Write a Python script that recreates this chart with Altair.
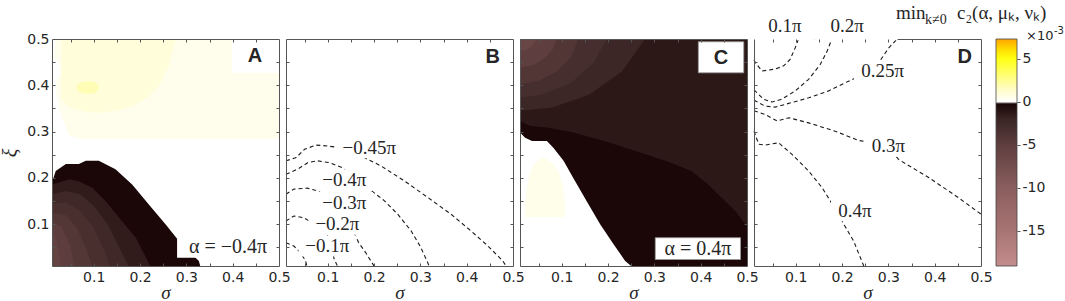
import altair as alt
import pandas as pd

# ---------------- geometry / style constants ----------------
W = H = 227
S0, S1 = 0.01, 0.5
PX = (S1 - S0) / W
FRAME = "#555555"
TXT = "#262626"
SERIF = "Liberation Serif"
SANS = "DejaVu Sans"

# ---------------- colour map (values in units of 1e-3) ----------------
CB_RANGE = [-19.1, 7.3]
CMAP_VALUES = [-19.1, -15, -10, -5, -2, -0.25, 0, 1.5, 3, 5, 6, 7.3]
CMAP_COLORS = ["#c48c8c", "#a87474", "#8a5e5e", "#5e3e3e", "#3a2424", "#1a0606",
               "#ffffff", "#fffcc4", "#ffff78", "#ffff14", "#ffe000", "#ffa500"]
CB_VALUES = [5, 0, -5, -10, -15]

MAJOR = [0.1, 0.2, 0.3, 0.4, 0.5]
MINOR = [0.05, 0.1, 0.15, 0.2, 0.25, 0.3, 0.35, 0.4, 0.45]

# ---------------- panel A (alpha = -0.4 pi) ----------------
A_YO_XI = [0.284, 0.29, 0.31, 0.327, 0.35, 0.377, 0.406, 0.427, 0.449, 0.463, 0.48, 0.5]
A_YO_L = [0.075, 0.047, 0.04, 0.032, 0.026, 0.021, 0.018, 0.029, 0.025, 0.014, 0.016, 0.018]
A_YO_LEV = 0.45
A_YM_S = [0.03, 0.045, 0.061, 0.085, 0.111, 0.15, 0.183, 0.215, 0.241, 0.262, 0.277]
A_YM_LO = [0.37, 0.355, 0.348, 0.343, 0.341, 0.345, 0.355, 0.373, 0.399, 0.44, 0.5]
A_YM_LEV = 0.95
A_YS_XI = [0.382, 0.387, 0.395, 0.403, 0.408]
A_YS_L = [0.078, 0.066, 0.062, 0.066, 0.078]
A_YS_R = [0.1, 0.108, 0.112, 0.108, 0.1]
A_YS_LEV = 1.8

A_D0_S = [0.01, 0.018, 0.04, 0.068, 0.083, 0.111, 0.147, 0.183, 0.219, 0.255, 0.284, 0.313, 0.327, 0.33]
A_D0_T = [0.19, 0.215, 0.23, 0.23, 0.237, 0.237, 0.219, 0.186, 0.143, 0.1, 0.064, 0.035, 0.021, 0.01]
A_D1_S = [0.01, 0.047, 0.068, 0.097, 0.126, 0.155, 0.191, 0.212, 0.222]
A_D1_T = [0.186, 0.197, 0.193, 0.179, 0.15, 0.114, 0.071, 0.03, 0.01]
A_D2_S = [0.01, 0.04, 0.07, 0.10, 0.13, 0.155, 0.175]
A_D2_T = [0.165, 0.172, 0.165, 0.14, 0.1, 0.05, 0.01]
A_D3_S = [0.01, 0.04, 0.07, 0.10, 0.12, 0.135]
A_D3_T = [0.145, 0.147, 0.13, 0.093, 0.05, 0.01]
A_D4_S = [0.01, 0.04, 0.065, 0.085, 0.097]
A_D4_T = [0.125, 0.12, 0.09, 0.045, 0.01]
A_D5_S = [0.01, 0.03, 0.05, 0.058]
A_D5_T = [0.105, 0.095, 0.055, 0.01]
A_D6_S = [0.01, 0.02, 0.03]
A_D6_T = [0.09, 0.065, 0.01]
A_D_LEVELS = [-0.3, -1.5, -2.5, -3.3, -4.1, -4.9, -5.7]

# ---------------- panel C (alpha = 0.4 pi) ----------------
C_BASE_S = [0.01, 0.5]
C_BASE_LEV = -1.3
C_A5_S = [0.01, 0.08, 0.16, 0.23, 0.28]
C_A5_LO = [0.345, 0.352, 0.38, 0.43, 0.5]
C_A4_S = [0.01, 0.06, 0.12, 0.17, 0.197]
C_A4_LO = [0.373, 0.38, 0.405, 0.45, 0.5]
C_A3_S = [0.01, 0.05, 0.09, 0.12, 0.136]
C_A3_LO = [0.402, 0.41, 0.43, 0.46, 0.5]
C_A2_S = [0.01, 0.04, 0.065, 0.082, 0.089]
C_A2_LO = [0.438, 0.444, 0.46, 0.48, 0.5]
C_A1_S = [0.01, 0.025, 0.038, 0.046]
C_A1_LO = [0.474, 0.477, 0.487, 0.5]
C_ARC_LEVELS = [-2.2, -3.1, -4.0, -5.0, -6.2]
C_BLACK_S = [0.01, 0.032, 0.068, 0.125, 0.197, 0.269, 0.33, 0.38, 0.416, 0.445, 0.474, 0.5]
C_BLACK_T = [0.323, 0.312, 0.309, 0.298, 0.278, 0.255, 0.235, 0.215, 0.186, 0.158, 0.129, 0.096]
C_BLACK_LEV = -0.3
C_WHITE_S = [0.01, 0.021, 0.036, 0.068, 0.082, 0.104, 0.125, 0.154, 0.183, 0.212, 0.237, 0.25]
C_WHITE_T = [0.298, 0.287, 0.28, 0.28, 0.265, 0.237, 0.2, 0.15, 0.1, 0.057, 0.021, 0.01]
C_WHITE_LEV = 0.0
C_YEL_XI = [0.115, 0.15, 0.18, 0.21, 0.23, 0.244]
C_YEL_L = [0.021, 0.021, 0.025, 0.031, 0.04, 0.058]
C_YEL_R = [0.107, 0.107, 0.104, 0.095, 0.082, 0.062]
C_YEL_LEV = 0.5

# ---------------- panel B contours ----------------
B_NAMES = ["−0.45π", "−0.4π", "−0.3π", "−0.2π", "−0.1π"]
B_S = [
    [0.01, 0.032, 0.05, 0.075, 0.1, 0.122, 0.15, 0.179, 0.215, 0.265, 0.316, 0.366, 0.409, 0.445, 0.478, 0.485],
    [0.01, 0.035, 0.057, 0.078, 0.104, 0.132, 0.16, 0.19, 0.222, 0.251, 0.28, 0.301, 0.316, 0.319],
    [0.01, 0.027, 0.056, 0.078, 0.1, 0.125, 0.145, 0.16, 0.167, 0.182, 0.2],
    [0.01, 0.027, 0.049, 0.06, 0.08, 0.1, 0.108, 0.114, 0.121],
    [0.01, 0.027, 0.04, 0.05, 0.053, 0.055],
]
B_XI = [
    [0.237, 0.244, 0.262, 0.271, 0.269, 0.266, 0.258, 0.244, 0.226, 0.194, 0.158, 0.122, 0.086, 0.054, 0.021, 0.01],
    [0.208, 0.219, 0.233, 0.237, 0.233, 0.222, 0.2, 0.176, 0.151, 0.122, 0.086, 0.05, 0.017, 0.01],
    [0.165, 0.176, 0.178, 0.172, 0.16, 0.14, 0.11, 0.075, 0.06, 0.039, 0.01],
    [0.107, 0.118, 0.114, 0.107, 0.095, 0.075, 0.05, 0.025, 0.01],
    [0.06, 0.053, 0.04, 0.025, 0.018, 0.01],
]
B_LAB_S = [0.19, 0.136, 0.136, 0.121, 0.099]
B_LAB_XI = [0.265, 0.196, 0.147, 0.1, 0.053]

# ---------------- panel D contours ----------------
D_NAMES = ["0.1π", "0.2π", "0.25π", "0.3π", "0.4π"]
D_S = [
    [0.01, 0.013, 0.027, 0.056, 0.074, 0.088, 0.099, 0.106],
    [0.01, 0.031, 0.049, 0.07, 0.099, 0.128, 0.153, 0.168, 0.178],
    [0.01, 0.034, 0.056, 0.092, 0.128, 0.171, 0.214, 0.25, 0.28, 0.301, 0.319],
    [0.01, 0.034, 0.06, 0.085, 0.128, 0.185, 0.236, 0.27, 0.301, 0.322, 0.387, 0.452, 0.5],
    [0.01, 0.02, 0.034, 0.063, 0.092, 0.128, 0.157, 0.175, 0.19, 0.204, 0.225, 0.247],
]
D_XI = [
    [0.455, 0.449, 0.431, 0.435, 0.442, 0.456, 0.481, 0.5],
    [0.39, 0.37, 0.364, 0.37, 0.388, 0.413, 0.445, 0.474, 0.5],
    [0.368, 0.355, 0.353, 0.363, 0.373, 0.388, 0.409, 0.425, 0.45, 0.481, 0.5],
    [0.345, 0.337, 0.323, 0.33, 0.319, 0.301, 0.281, 0.275, 0.265, 0.24, 0.201, 0.157, 0.122],
    [0.301, 0.273, 0.271, 0.276, 0.251, 0.215, 0.179, 0.15, 0.125, 0.1, 0.064, 0.01],
]
D_LAB_S = [0.077, 0.211, 0.288, 0.3, 0.228]
D_LAB_XI = [0.528, 0.528, 0.431, 0.269, 0.129]
D_TOP_BOX_S0 = [0.01, 0.14]
D_TOP_BOX_S1 = [0.14, 0.32]

# ---------------- scales ----------------
XS = alt.Scale(domain=[S0, S1], nice=False, zero=False)
YS = alt.Scale(domain=[S0, S1], nice=False, zero=False)
CS = alt.Scale(type="linear", domain=CMAP_VALUES, range=CMAP_COLORS, interpolate="rgb")
LABEL_SIZE = 19


def xax(kind, zi=1):
    if kind is None:
        return None
    if kind == "lab":
        return alt.Axis(orient="bottom", values=MAJOR, format=".1f", ticks=False, tickSize=0,
                        domain=True, domainColor=FRAME, grid=False, labelFont=SANS,
                        labelFontSize=14, labelColor=TXT, labelPadding=4, labelFlush=False,
                        labelOverlap=False, title="σ", titleFont=SERIF, titleFontSize=19,
                        titleFontStyle="italic", titleFontWeight="normal", titleColor=TXT,
                        titlePadding=-1, zindex=1)
    if kind in ("bt", "tt"):
        return alt.Axis(orient="bottom" if kind == "bt" else "top", values=MINOR, labels=False,
                        domain=False, ticks=True, tickSize=3, tickColor=FRAME, offset=-3,
                        grid=False, title=None, zindex=1)
    return alt.Axis(orient="top", labels=False, ticks=False, domain=True, domainColor=FRAME,
                    grid=False, title=None, zindex=zi)


def yax(kind):
    if kind is None:
        return None
    if kind == "lab":
        return alt.Axis(orient="left", values=MAJOR, format=".1f", ticks=False, tickSize=0,
                        domain=True, domainColor=FRAME, grid=False, labelFont=SANS,
                        labelFontSize=14, labelColor=TXT, labelPadding=3, labelFlush=False,
                        labelOverlap=False, title="ξ", titleFont=SERIF, titleFontSize=20,
                        titleFontStyle="italic", titleFontWeight="normal", titleColor=TXT,
                        titlePadding=6, zindex=1)
    if kind == "ld":
        return alt.Axis(orient="left", labels=False, ticks=False, domain=True, domainColor=FRAME,
                        grid=False, title=None, zindex=1)
    if kind in ("lt", "rt"):
        return alt.Axis(orient="left" if kind == "lt" else "right", values=MINOR, labels=False,
                        domain=False, ticks=True, tickSize=3, tickColor=FRAME, offset=-3,
                        grid=False, title=None, zindex=1)
    return alt.Axis(orient="right", labels=False, ticks=False, domain=True, domainColor=FRAME,
                    grid=False, title=None, zindex=1)


def X(field, kind=None, zi=1):
    return alt.X(f"{field}:Q", scale=XS, axis=xax(kind, zi))


def Y(field, kind=None):
    return alt.Y(f"{field}:Q", scale=YS, axis=yax(kind))


COLOR = alt.Color("lev:Q", scale=CS, legend=None)


def varea(s, lo, hi, lev, ax=(None, None)):
    df = pd.DataFrame({"s": s, "lo": lo, "hi": hi})
    df["lev"] = lev
    return alt.Chart(df).mark_area(interpolate="linear").encode(
        x=X("s", ax[0]), y=Y("lo", ax[1]), y2="hi:Q", color=COLOR)


def harea(xi, l, r, lev, ax=(None, None)):
    df = pd.DataFrame({"xi": xi, "l": l, "r": r})
    df["lev"] = lev
    return alt.Chart(df).mark_area(orient="horizontal", interpolate="linear").encode(
        y=Y("xi", ax[1]), x=X("l", ax[0]), x2="r:Q", color=COLOR)


def boxes(x0, x1, y0, y1, ax=(None, None), stroke=None, zi=1):
    df = pd.DataFrame({"x0": x0, "x1": x1, "y0": y0, "y1": y1})
    kw = dict(fill="white")
    if stroke:
        kw.update(stroke=stroke, strokeWidth=0.8)
    return alt.Chart(df).mark_rect(**kw).encode(
        x=X("x0", ax[0], zi), x2="x1:Q", y=Y("y0", ax[1]), y2="y1:Q")


def texts(t, s, xi, size=LABEL_SIZE, font=SERIF, weight="normal", ax=(None, None)):
    df = pd.DataFrame({"t": t, "s": s, "xi": xi})
    return alt.Chart(df).mark_text(font=font, fontSize=size, fontWeight=weight, color=TXT).encode(
        x=X("s", ax[0]), y=Y("xi", ax[1]), text="t:N")


def label_boxes(t, s, xi, size=LABEL_SIZE, pad=5):
    w = [(0.5 * size * len(tt) + 2 * pad) * PX for tt in t]
    h = (size + 2) * PX
    x0 = [a - b / 2 for a, b in zip(s, w)]
    x1 = [a + b / 2 for a, b in zip(s, w)]
    y0 = [a - h / 2 for a in xi]
    y1 = [a + h / 2 for a in xi]
    return x0, x1, y0, y1


def contour_lines(names, S, XI, ax=(None, None)):
    rows = []
    for n, ss, xx in zip(names, S, XI):
        for i, (a, b) in enumerate(zip(ss, xx)):
            rows.append({"c": n, "i": i, "s": a, "xi": b})
    df = pd.DataFrame(rows)
    return alt.Chart(df).mark_line(strokeDash=[4, 3], strokeWidth=1.1, color="#1a1a1a").encode(
        x=X("s", ax[0]), y=Y("xi", ax[1]), detail="c:N", order="i:Q")


AX_A = [("lab", "lab"), ("bt", "lt"), ("tt", "rt"), ("td", "rd")]
AX_O = [("lab", "ld"), ("bt", "lt"), ("tt", "rt"), ("td", "rd")]

# ---------------- panel A ----------------
a_dark = [(A_D0_S, A_D0_T), (A_D1_S, A_D1_T), (A_D2_S, A_D2_T), (A_D3_S, A_D3_T),
          (A_D4_S, A_D4_T), (A_D5_S, A_D5_T), (A_D6_S, A_D6_T)]
layersA = [
    harea(A_YO_XI, A_YO_L, S1, A_YO_LEV, AX_A[0]),
    varea(A_YM_S, A_YM_LO, S1, A_YM_LEV, AX_A[1]),
    harea(A_YS_XI, A_YS_L, A_YS_R, A_YS_LEV, AX_A[2]),
]
for k, ((s, t), lev) in enumerate(zip(a_dark, A_D_LEVELS)):
    layersA.append(varea(s, S0, t, lev, AX_A[3] if k == 0 else (None, None)))
layersA += [
    boxes([0.398, 0.28], [0.5, 0.5], [0.427, 0.028], [0.5, 0.075]),
    texts(["A"], [0.448], [0.463], size=20, font="Liberation Sans", weight="bold"),
    texts(["α = −0.4π"], [0.39], [0.051], size=20),
]
pA = alt.layer(*layersA).resolve_axis(x="independent", y="independent").properties(width=W, height=H)

# ---------------- panel B ----------------
bx0, bx1, by0, by1 = label_boxes(B_NAMES, B_LAB_S, B_LAB_XI)
pB = alt.layer(
    contour_lines(B_NAMES, B_S, B_XI, AX_O[0]),
    boxes(bx0, bx1, by0, by1, AX_O[1]),
    texts(B_NAMES, B_LAB_S, B_LAB_XI, ax=AX_O[2]),
    texts(["B"], [0.456], [0.461], size=20, font="Liberation Sans", weight="bold", ax=AX_O[3]),
).resolve_axis(x="independent", y="independent").properties(width=W, height=H)

# ---------------- panel C ----------------
c_arcs = [(C_A5_S, C_A5_LO), (C_A4_S, C_A4_LO), (C_A3_S, C_A3_LO), (C_A2_S, C_A2_LO), (C_A1_S, C_A1_LO)]
layersC = [varea(C_BASE_S, S0, S1, C_BASE_LEV, AX_O[0])]
for k, ((s, lo), lev) in enumerate(zip(c_arcs, C_ARC_LEVELS)):
    layersC.append(varea(s, lo, S1, lev, AX_O[1] if k == 0 else (None, None)))
layersC += [
    varea(C_BLACK_S, S0, C_BLACK_T, C_BLACK_LEV, AX_O[2]),
    varea(C_WHITE_S, S0, C_WHITE_T, C_WHITE_LEV, AX_O[3]),
    harea(C_YEL_XI, C_YEL_L, C_YEL_R, C_YEL_LEV),
    boxes([0.395, 0.302], [0.493, 0.486], [0.427, 0.024], [0.494, 0.071], stroke="#999999"),
    texts(["C"], [0.444], [0.46], size=20, font="Liberation Sans", weight="bold"),
    texts(["α = 0.4π"], [0.394], [0.047], size=20),
]
pC = alt.layer(*layersC).resolve_axis(x="independent", y="independent").properties(width=W, height=H)

# ---------------- panel D ----------------
dx0, dx1, dy0, dy1 = label_boxes(D_NAMES, D_LAB_S, D_LAB_XI)
pD = alt.layer(
    contour_lines(D_NAMES, D_S, D_XI, AX_O[0]),
    boxes(dx0, dx1, dy0, dy1, AX_O[1]),
    boxes(D_TOP_BOX_S0, D_TOP_BOX_S1, [S1 - 1.3 * PX] * 2, [S1 + 26 * PX] * 2, ("td", "rd"), zi=0),
    texts(D_NAMES, D_LAB_S, D_LAB_XI, ax=AX_O[2]),
    texts(["D"], [0.465], [0.461], size=20, font="Liberation Sans", weight="bold"),
).resolve_axis(x="independent", y="independent").properties(width=W, height=H)

# ---------------- colour bar ----------------
CB_W = 29          # panel width; the bar itself fills its right 21 px
span = CB_RANGE[1] - CB_RANGE[0]
stops = [{"offset": (v - CB_RANGE[0]) / span, "color": c} for v, c in zip(CMAP_VALUES, CMAP_COLORS)]
cb_df = pd.DataFrame({"lo": [CB_RANGE[0]], "hi": [CB_RANGE[1]]})
cb_rect = alt.Chart(cb_df).mark_rect(
    fill={"gradient": "linear", "x1": 0, "y1": 1, "x2": 0, "y2": 0, "stops": stops},
    stroke="#444444", strokeWidth=0.8,
).encode(
    x=alt.value(CB_W - 21), x2=alt.value(CB_W),
    y=alt.Y("lo:Q", scale=alt.Scale(domain=CB_RANGE, nice=False, zero=False),
            axis=alt.Axis(orient="right", values=CB_VALUES, labelExpr="'' + datum.value",
                          ticks=True, tickSize=3, tickColor=FRAME, domain=False, grid=False,
                          labelFont=SANS, labelFontSize=14, labelColor=TXT, labelPadding=2,
                          title=None)),
    y2="hi:Q",
)


def ptext(t, x, y, size, font=SERIF):
    return alt.Chart(pd.DataFrame({"t": [t]})).mark_text(
        font=font, fontSize=size, align="left", baseline="alphabetic", color=TXT
    ).encode(text="t:N", x=alt.value(x), y=alt.value(y))


cbar = alt.layer(
    cb_rect,
    ptext("min", -92, -20, 19),
    ptext("k≠0", -63, -15, 14),
    ptext("c₂(α, μₖ, νₖ)", -31, -20, 19),
    ptext("×10", 38, 1, 13, SANS),
    ptext("-3", 66, -5, 10, SANS),
).properties(width=CB_W, height=H)

chart = alt.hconcat(
    pA, pB, pC, pD, cbar, spacing=7, bounds="flush",
).properties(
    padding={"left": 0, "top": 4, "right": 0, "bottom": 0}
).configure_view(strokeWidth=0)

chart.save("out.html", embed_options={"renderer": "svg", "actions": False})
